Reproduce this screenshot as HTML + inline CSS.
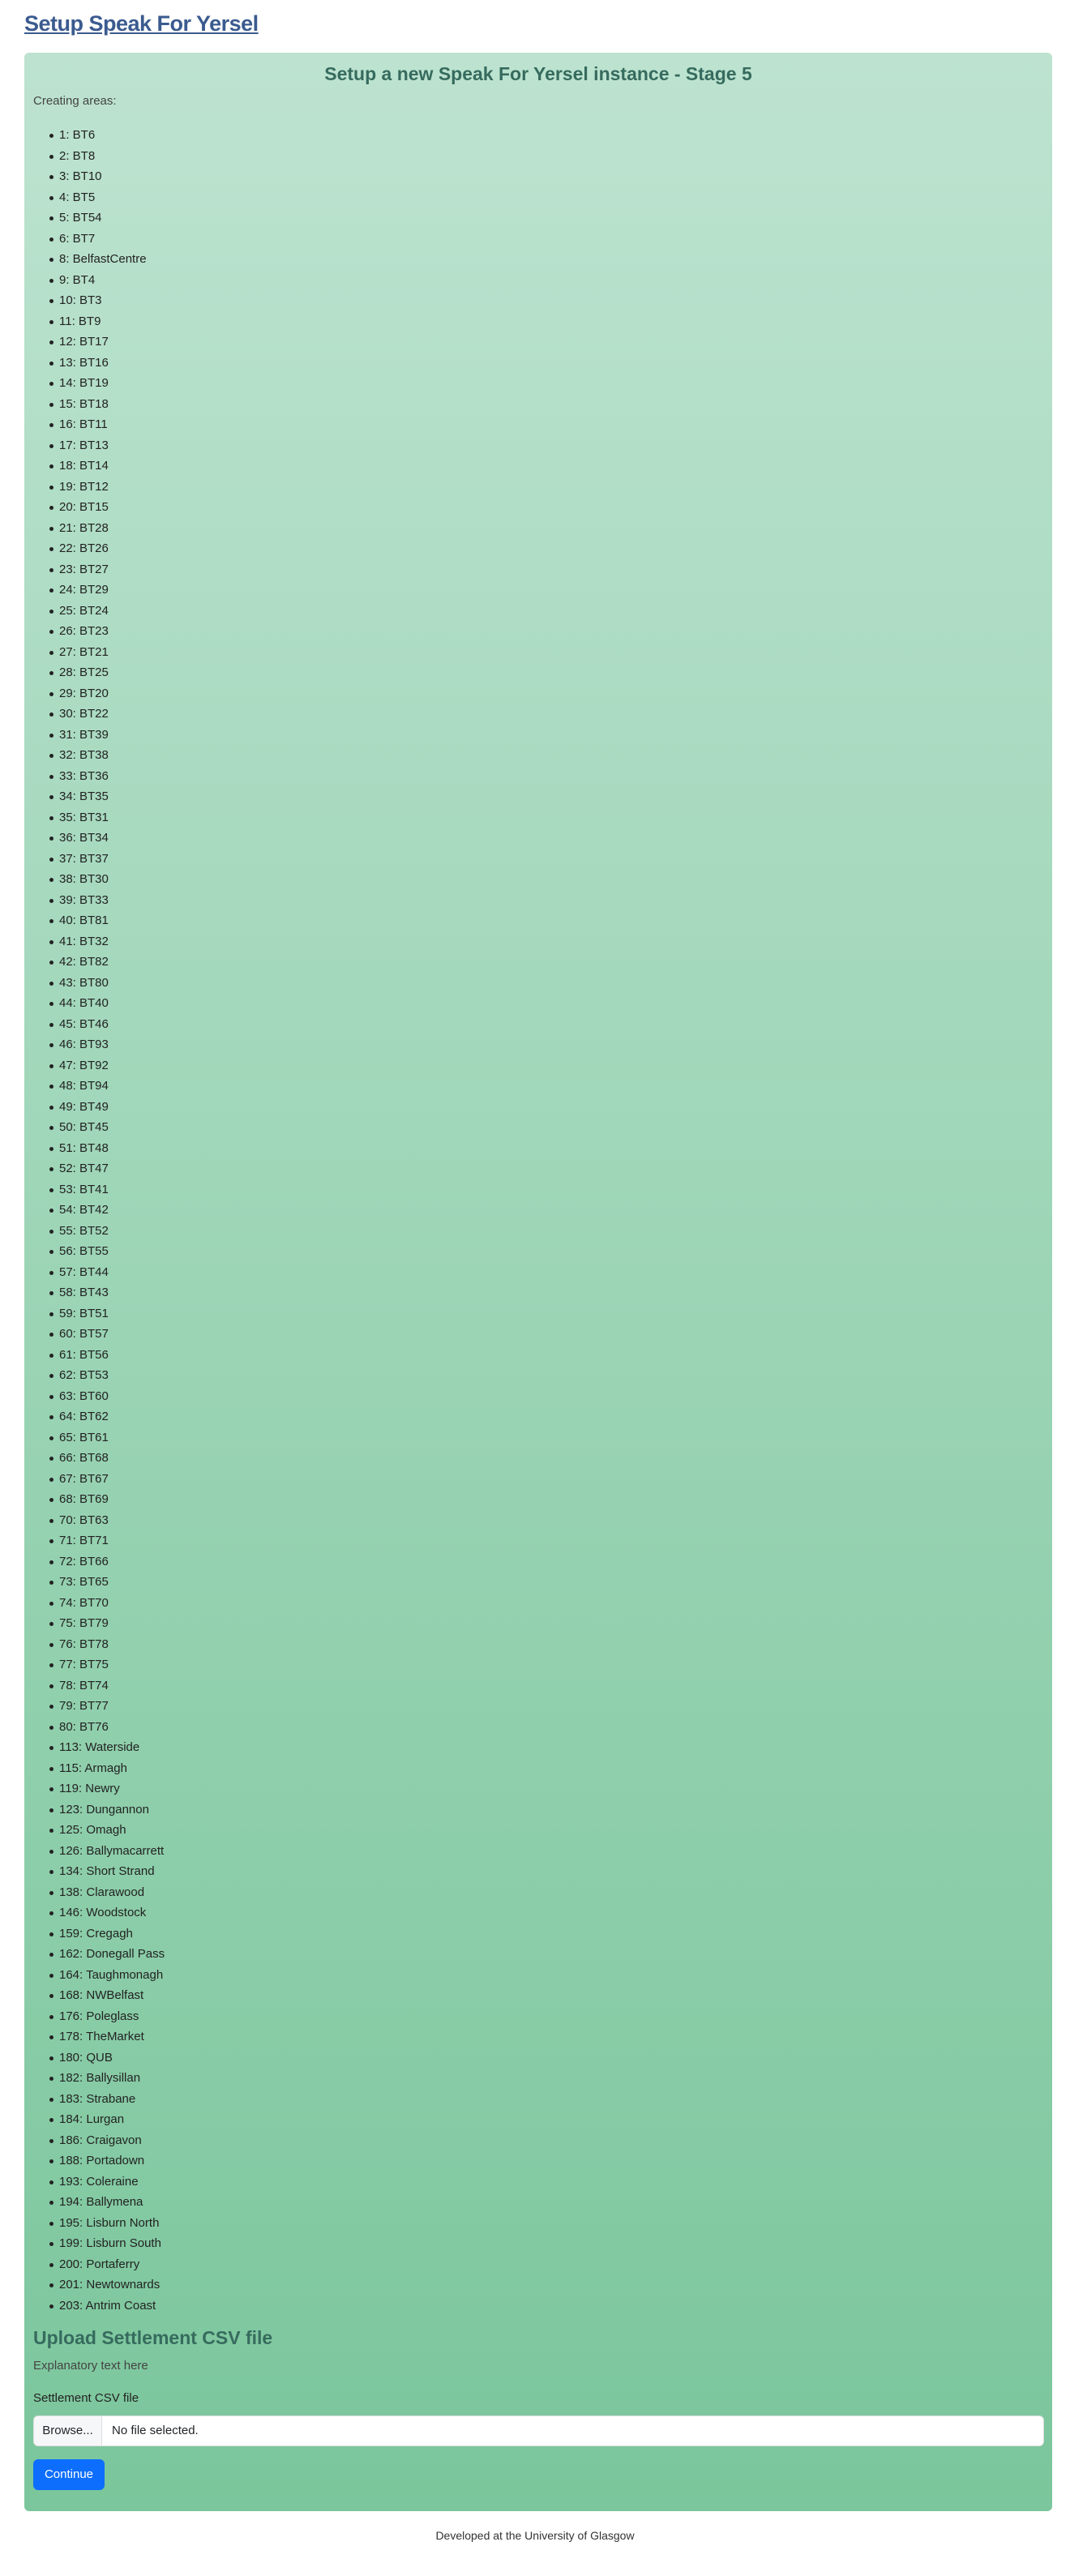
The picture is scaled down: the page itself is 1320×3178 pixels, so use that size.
<!DOCTYPE html>
<html><head><meta charset="utf-8">
<style>
*{box-sizing:border-box;margin:0;padding:0}
body{width:1320px;height:3178px;background:#fff;font-family:"Liberation Sans",sans-serif;position:relative;overflow:hidden;color:#212529}
#site-title{position:absolute;left:30px;top:14px;font-size:27px;font-weight:bold;color:#3b5b8f;text-decoration:underline;letter-spacing:-0.5px}
#card{position:absolute;left:30px;top:65px;width:1268px;height:3033px;border-radius:6px;background:linear-gradient(#bde3d0,#7bc69c)}
#card-title{position:absolute;text-align:center;font-size:23px;font-weight:bold;color:#366b5e}
.abs{position:absolute;left:41px}
#areas{position:absolute;left:41px;top:154px;list-style:none}
#areas li{height:25.5px;line-height:26px;font-size:15px;color:#222;position:relative;padding-left:32px}
#areas li::before{content:"";position:absolute;left:20px;top:11px;width:5px;height:5px;border-radius:50%;background:#222}
</style></head><body>
<a id="site-title">Setup Speak For Yersel</a>
<div id="card"></div>
<div id="card-title" style="left:30px;width:1268px;top:78px">Setup a new Speak For Yersel instance - Stage 5</div>
<div class="abs" style="top:116px;font-size:15px;color:#444">Creating areas:</div>
<ul id="areas"></ul>
<div class="abs" style="top:2871px;font-size:23px;font-weight:bold;color:#366b5e">Upload Settlement CSV file</div>
<div class="abs" style="top:2910px;font-size:15px;color:#444">Explanatory text here</div>
<div class="abs" style="top:2950px;font-size:15px;color:#222">Settlement CSV file</div>
<div class="abs" style="top:2980px;width:1247px;height:38px;background:#fff;border:1px solid #ddd;border-radius:6px;overflow:hidden;display:flex;font-size:15px">
<div style="width:84px;background:#f6f7f8;border-right:1px solid #ddd;line-height:36px;text-align:center">Browse...</div>
<div style="line-height:36px;padding-left:12px">No file selected.</div>
</div>
<div class="abs" style="top:3034px;width:88px;height:38px;background:#0d6efd;color:#fff;border-radius:6px;line-height:38px;text-align:center;font-size:15px">Continue</div>
<div style="position:absolute;top:3120px;left:0;width:1320px;text-align:center;font-size:14px;color:#333">Developed at the University of Glasgow</div>
<script>
const nums=[1,2,3,4,5,6,8,9,10,11,12,13,14,15,16,17,18,19,20,21,22,23,24,25,26,27,28,29,30,31,32,33,34,35,36,37,38,39,40,41,42,43,44,45,46,47,48,49,50,51,52,53,54,55,56,57,58,59,60,61,62,63,64,65,66,67,68,70,71,72,73,74,75,76,77,78,79,80];
const names2=["BT6","BT8","BT10","BT5","BT54","BT7","BelfastCentre","BT4","BT3","BT9","BT17","BT16","BT19","BT18","BT11","BT13","BT14","BT12","BT15","BT28","BT26","BT27","BT29","BT24","BT23","BT21","BT25","BT20","BT22","BT39","BT38","BT36","BT35","BT31","BT34","BT37","BT30","BT33","BT81","BT32","BT82","BT80","BT40","BT46","BT93","BT92","BT94","BT49","BT45","BT48","BT47","BT41","BT42","BT52","BT55","BT44","BT43","BT51","BT57","BT56","BT53","BT60","BT62","BT61","BT68","BT67","BT69","BT63","BT71","BT66","BT65","BT70","BT79","BT78","BT75","BT74","BT77","BT76"];
const named=["113: Waterside","115: Armagh","119: Newry","123: Dungannon","125: Omagh","126: Ballymacarrett","134: Short Strand","138: Clarawood","146: Woodstock","159: Cregagh","162: Donegall Pass","164: Taughmonagh","168: NWBelfast","176: Poleglass","178: TheMarket","180: QUB","182: Ballysillan","183: Strabane","184: Lurgan","186: Craigavon","188: Portadown","193: Coleraine","194: Ballymena","195: Lisburn North","199: Lisburn South","200: Portaferry","201: Newtownards","203: Antrim Coast"];
const items=[];
nums.forEach((n,i)=>items.push(n+": "+names2[i]));
named.forEach(s=>items.push(s));
const ul=document.getElementById('areas');
items.forEach(t=>{const li=document.createElement('li');li.textContent=t;


ul.appendChild(li);});
</script>
</body></html>
